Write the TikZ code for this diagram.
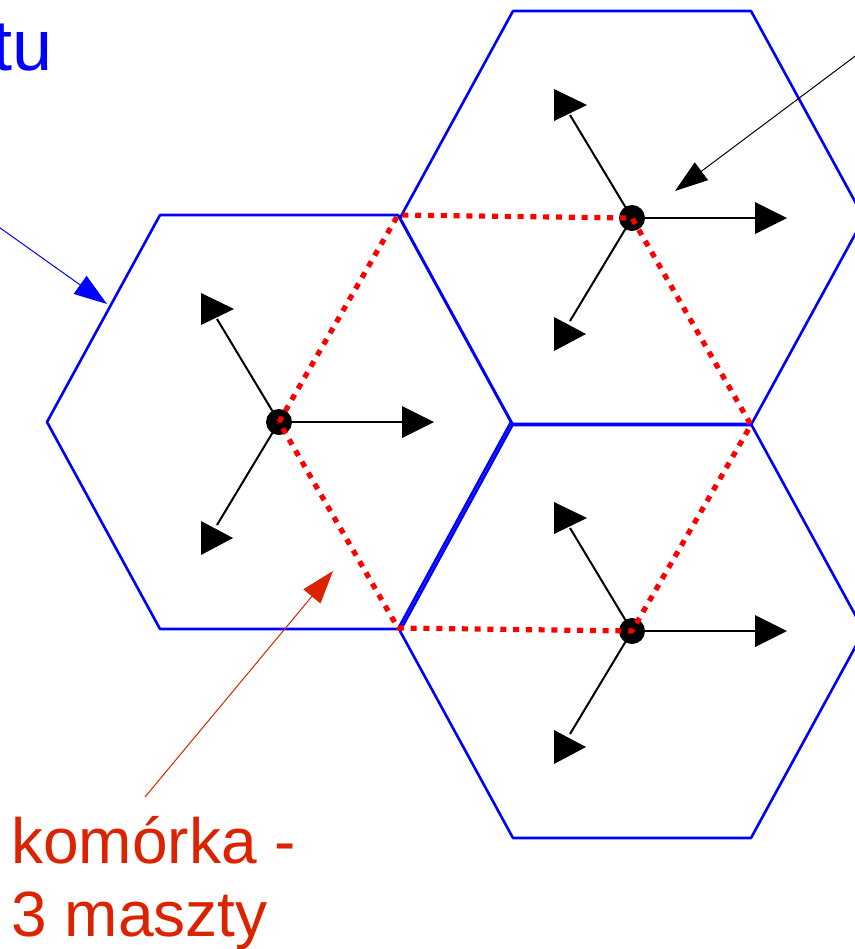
\documentclass[tikz,border=0pt]{standalone}
\usepackage{fontspec}
\setmainfont{Liberation Sans}
\usetikzlibrary{arrows.meta}
\definecolor{labelred}{RGB}{221,34,0}
\tikzset{
	hexline/.style={blue,line width=1.3pt},
	cellline/.style={red,line width=2.6pt,dash pattern=on 3pt off 3.4pt,line cap=butt},
	beam/.style={black,line width=1pt},
	pointer/.style={line width=0.5pt,-{Triangle[length=16.5pt,width=11pt]}},
}
\begin{document}
\begin{tikzpicture}[x=0.5pt,y=-0.5pt,line join=round]
	\useasboundingbox (0,0) rectangle (855,949);
	\path 
	(279,422) coordinate (A)
	(632,218) coordinate (B)
	(632,631) coordinate (C)
	(398,215) coordinate (P)
	(751,425) coordinate (Q)
	(398,628) coordinate (R)
	(-4,225) coordinate (blueend)
	(107,304) coordinate (bluetip)
	(858,54) coordinate (blackend)
	(675,191) coordinate (blacktip)
	(145,797) coordinate (redend)
	(333,571) coordinate (redtip)
	;
	% hexagons
	\foreach \c in {A,B,C}
	\draw[hexline] (\c) ++(-119,-207) -- ++(238,0) -- ++(113,207) -- ++(-113,207) -- ++(-238,0) -- ++(-113,-207) -- cycle;
	
	% masts with three sectors
	\foreach \c in {A,B,C}{
		\draw[beam] (\c) -- ++(-62,-103);
		\draw[beam] (\c) -- ++(-62,103);
		\draw[beam] (\c) -- ++(124,0);
		\fill (\c) ++(-45,-113) -- ++(-33,-16) -- ++(0,32) -- cycle;
		\fill (\c) ++(-46,116) -- ++(-32,-17) -- ++(0,34) -- cycle;
		\fill (\c) ++(155,0) -- ++(-32,-16) -- ++(0,32) -- cycle;
		\fill (\c) circle(6.5pt);
	}
	
	\draw[cellline] (A)--(P)--(B)--(Q)--(C)--(R)--cycle;
	
	\node[blue,font=\fontsize{36}{40}\selectfont,anchor=base west,inner sep=0] (tu) at (-8,70) {tu};
	\node[labelred,font=\fontsize{32}{36.5}\selectfont,align=left,anchor=base west,inner sep=0] (cell) at (11,936) {komórka -\\3 maszty};
	
	\draw[pointer,blue] (blueend)--(bluetip);
	\draw[pointer,black] (blackend)--(blacktip);
	\draw[pointer,labelred] (redend)--(redtip);
\end{tikzpicture}
\end{document}
